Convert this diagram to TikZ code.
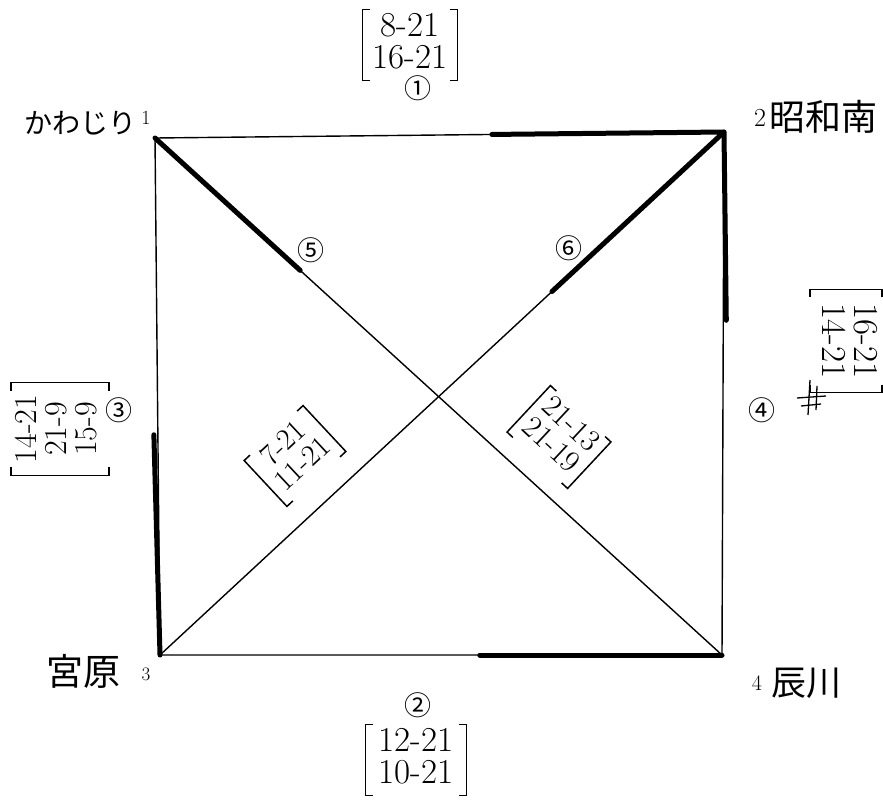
\documentclass[tikz,border=0pt]{standalone}
\usepackage{fontspec}
\newfontfamily\jp{Noto Sans CJK JP}
\usetikzlibrary{calc}
\newcommand{\bk}[1]{%
  \draw[bline] ($(#1.north west)!8pt!(#1.north east)$) -- (#1.north west) -- (#1.south west) -- ($(#1.south west)!8pt!(#1.south east)$);
  \draw[bline] ($(#1.north east)!8pt!(#1.north west)$) -- (#1.north east) -- (#1.south east) -- ($(#1.south east)!8pt!(#1.south west)$);}
\newcommand{\rows}[1]{\begin{tabular}{@{}c@{}}#1\end{tabular}}
\begin{document}
\begin{tikzpicture}[x=1pt,y=-1pt,
  edge/.style={line width=1.4pt},
  heavy/.style={line width=5pt,line cap=round,line join=round},
  bline/.style={line width=1.5pt},
  circ/.style={inner sep=0pt,font=\jp\fontsize{27}{27}\selectfont},
  mat/.style={inner xsep=10pt,inner ysep=3pt,font=\fontsize{35}{30}\selectfont},
  smat/.style={inner xsep=8pt,inner ysep=3pt,font=\fontsize{30}{27}\selectfont},
  cname/.style={inner sep=0pt},
  num/.style={inner sep=0pt,font=\fontsize{20}{20}\selectfont}]
\useasboundingbox (0,0) rectangle (883,801);
% corners
\coordinate (c1) at (155,138);
\coordinate (c2) at (724,132);
\coordinate (c3) at (160,655);
\coordinate (c4) at (722,655);
% thin edges
\draw[edge] (c1) -- (c2) -- (c4) -- (c3) -- cycle;
\draw[edge] (c1) -- (c4);
\draw[edge] (c3) -- (c2);
% heavy parts
\coordinate (h14) at ($(c1)!0.256!(c4)$);
\coordinate (h32) at ($(c3)!0.695!(c2)$);
\coordinate (h12) at ($(c1)!0.592!(c2)$);
\coordinate (h24) at ($(c2)!0.36!(c4)$);
\coordinate (h13) at ($(c1)!0.574!(c3)$);
\coordinate (h34) at ($(c3)!0.569!(c4)$);
\draw[heavy] (c1) -- (h14);
\draw[heavy] (h12) -- (c2) -- (h32);
\draw[heavy] (c2) -- ([xshift=3pt]h24);
\draw[heavy] ([xshift=-4pt]h13) -- (c3);
\draw[heavy] (h34) -- (c4);
% corner names
\node[cname,font=\jp\fontsize{28}{28}\selectfont] (n1) at (80,123) {かわじり};
\node[num] (k1) at (146,118) {1};
\node[num,font=\fontsize{26}{26}\selectfont] (k2) at (760,118) {2};
\node[cname,font=\jp\fontsize{36}{36}\selectfont] (n2) at (823,117) {昭和南};
\node[cname,font=\jp\fontsize{37}{37}\selectfont] (n3) at (83,671) {宮原};
\node[num,font=\fontsize{19}{19}\selectfont] (k3) at (146,674) {3};
\node[num,font=\fontsize{22}{22}\selectfont] (k4) at (757,683) {4};
\node[cname,font=\jp\fontsize{35}{35}\selectfont] (n4) at (806,683) {辰川};
% circled numbers
\node[circ] (e1) at (418,88) {①};
\node[circ] (e2) at (418,705) {②};
\node[circ] (e3) at (119,410) {③};
\node[circ] (e4) at (762,410) {④};
\node[circ] (e5) at (311,250) {⑤};
\node[circ] (e6) at (569,248) {⑥};
% bracketed groups
\node[mat] (m1) at (410,45) {\rows{8-21\\16-21}};
\node[mat,inner xsep=13pt] (m2) at (416,760) {\rows{12-21\\10-21}};
\node[mat,font=\fontsize{32}{29}\selectfont,inner xsep=12pt,inner ysep=4pt,rotate=90] (m3) at (60,429) {\rows{14-21\\21-9\\15-9}};
\node[mat,font=\fontsize{35}{29}\selectfont,inner xsep=14pt,inner ysep=4pt,rotate=-90] (m4) at (846,341) {\rows{16-21\\14-21}};
\node[smat,rotate=43] (m5) at (295,456) {\rows{7-21\\11-21}};
\node[smat,font=\fontsize{31}{27}\selectfont,rotate=-43] (m6) at (559,437) {\rows{21-13\\21-19}};
\bk{m1} \bk{m2} \bk{m3} \bk{m4} \bk{m5} \bk{m6}
% scribble
\draw[line width=1.3pt] (810,380) -- (808,415);
\draw[line width=1.3pt] (817,386) -- (816,410);
\draw[line width=1.3pt] (797,398) -- (826,396);
\draw[line width=1.3pt] (801,406) -- (821,404);
\end{tikzpicture}
\end{document}
